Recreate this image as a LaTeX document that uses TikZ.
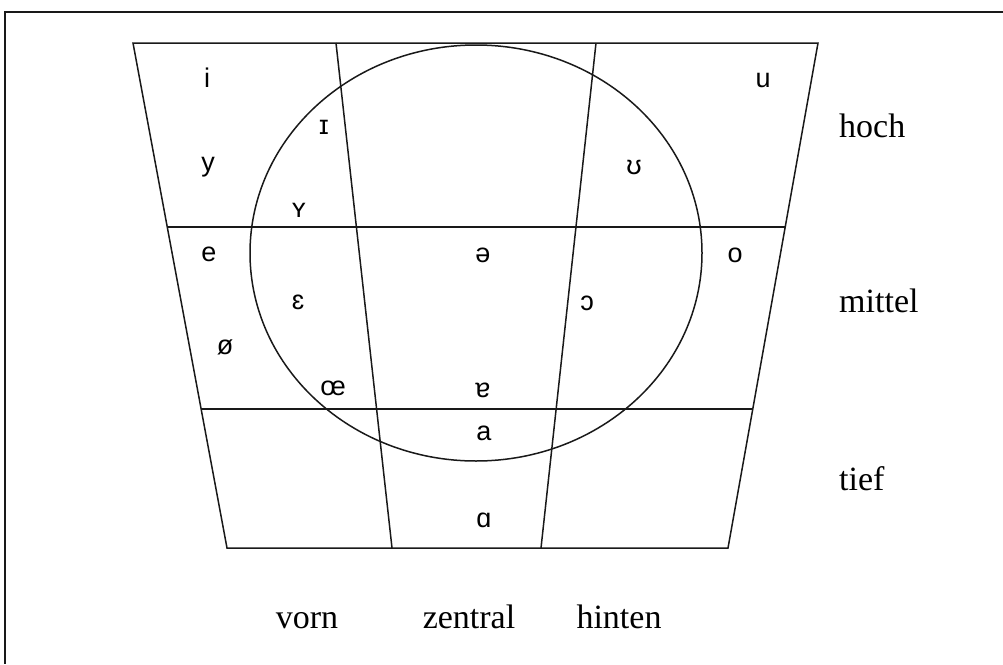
\documentclass[tikz,border=0pt]{standalone}
\usepackage{fontspec}
\setmainfont{Liberation Serif}
\newfontfamily\vowelsans{Liberation Sans}
\usetikzlibrary{calc}

\begin{document}
\begin{tikzpicture}[
  x=1pt, y=-1pt,
  grid/.style={line width=1.5pt, draw=black!90, line join=miter},
  vow/.style={font=\vowelsans\fontsize{27}{30}\selectfont, inner sep=0pt,
              anchor=center, text=black},
  lab/.style={font=\fontsize{34}{38}\selectfont, inner sep=0pt,
              text=black},
]
\useasboundingbox (0,0) rectangle (1003,664);

% frame of the page, only top and left edges are visible
\draw[grid] (1003,12) -- (5,12) -- (5,664);

% corners of the trapezoid and the two slanted dividers
\coordinate (tl) at (133,43);
\coordinate (tr) at (818,43);
\coordinate (bl) at (227,548);
\coordinate (br) at (728,548);
\coordinate (d1t) at (336,43);
\coordinate (d1b) at (392,548);
\coordinate (d2t) at (596,43);
\coordinate (d2b) at (541,548);

% row lines at y = 227 and y = 409
\coordinate (h1l) at ($(tl)!0.364!(bl)$);
\coordinate (h1r) at ($(tr)!0.364!(br)$);
\coordinate (h2l) at ($(tl)!0.725!(bl)$);
\coordinate (h2r) at ($(tr)!0.725!(br)$);

\draw[grid] (tl) -- (tr) -- (br) -- (bl) -- cycle;
\draw[grid] (d1t) -- (d1b);
\draw[grid] (d2t) -- (d2b);
\draw[grid] (h1l) -- (h1r);
\draw[grid] (h2l) -- (h2r);

% lax vowels area
\draw[grid] (476,253) ellipse [x radius=226pt, y radius=208pt];

% vowels: name / x / y / symbol
\foreach \nm/\vx/\vy/\sym in {
    vi/207/78/i, vu/763/80/u, vI/324/127/ɪ, vy/208/167/y,
    vU/634/167/ʊ, vY/299/210/ʏ, ve/209/254/e, vschwa/483/255/ə,
    vo/735/255/o, veps/298/302/ɛ, vopen/587/303/ɔ, voe/225/347/ø,
    voelig/333/388/œ, vturna/483/390/ɐ, va/484/433/a, vAlpha/484/520/ɑ}
  \node[vow] (\nm) at (\vx,\vy) {\sym};

% height and backness labels
\node[lab, anchor=base west] (hoch) at (839,137) {hoch};
\node[lab, anchor=base west] (mittel) at (839,312) {mittel};
\node[lab, anchor=base west] (tief) at (839,490) {tief};
\node[lab, anchor=base] (vorn) at (307,628) {vorn};
\node[lab, anchor=base] (zentral) at (469,628) {zentral};
\node[lab, anchor=base] (hinten) at (619,628) {hinten};
\end{tikzpicture}
\end{document}
